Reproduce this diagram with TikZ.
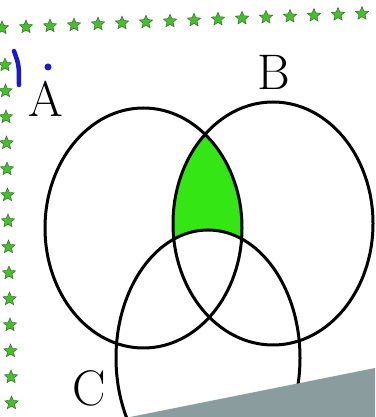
\documentclass[tikz,border=0pt]{standalone}
\usepackage{tikz}
\usetikzlibrary{shapes.geometric}

\definecolor{regiongreen}{RGB}{52,230,20}
\definecolor{stargreen}{RGB}{70,190,45}
\definecolor{papergrey}{RGB}{138,156,158}
\definecolor{penblue}{RGB}{25,25,205}

\tikzset{
  setline/.style={line width=3pt,black},
  setlabel/.style={font=\fontsize{50}{50}\selectfont,inner sep=0pt},
  borderstar/.style={star,star points=5,star point ratio=2.2,fill=stargreen,draw=stargreen!50!black,line width=0.4pt,minimum size=14pt,inner sep=0pt}
}

\begin{document}
\begin{tikzpicture}[x=1pt,y=1pt]

\useasboundingbox (0,0) rectangle (375,417);
\clip (0,0) rectangle (375,417);
\fill[white] (0,0) rectangle (375,417);

% Shaded region: A and B, outside C
\begin{scope}
  \clip (143.5,189) ellipse [x radius=98.5, y radius=120];
  \clip (273,193.5) ellipse [x radius=100, y radius=121.5];
  \fill[regiongreen,even odd rule] (0,0) rectangle (375,417)
    (208,59) ellipse [x radius=92, y radius=128];
\end{scope}

% The three sets
\draw[setline] (143.5,189) ellipse [x radius=98.5, y radius=120];
\draw[setline] (273,193.5) ellipse [x radius=100, y radius=121.5];
\draw[setline] (208,59) ellipse [x radius=92, y radius=128];

% Set names
\node[setlabel] (labA) at (46,318) {A};
\node[setlabel] (labB) at (274,345) {B};
\node[setlabel] (labC) at (89,29) {C};

% Blue pen marks
\draw[penblue,line width=4.5pt,line cap=round] (14,366) .. controls (19,352) .. (19,332);
\fill[penblue] (48,350) circle (3.5);

% Star border
\foreach \i in {0,...,15} {
  \node[borderstar] (ts\i) at ({2+24*\i},{389+15*(2+24*\i)/375}) {};
}
\foreach \i in {0,...,13} {
  \node[borderstar] (ls\i) at ({5+0.5*\i},{352-26*\i}) {};
}

% Paper lying over the corner
\fill[papergrey] (130,0) -- (375,49) -- (375,0) -- cycle;

\end{tikzpicture}
\end{document}
